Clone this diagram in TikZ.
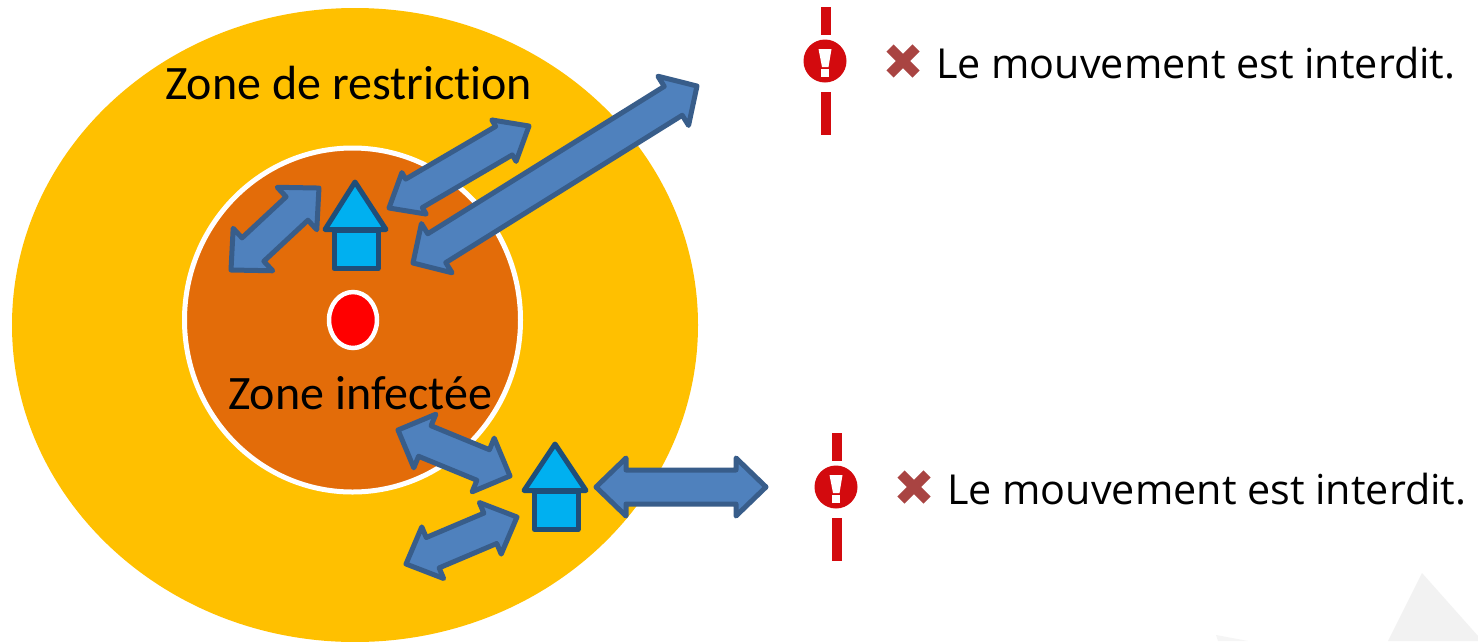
\documentclass[tikz,border=0pt]{standalone}
\usepackage{fontspec}
\setmainfont[Ligatures=NoCommon]{Carlito}
\newfontfamily\opensans{Open Sans}
\definecolor{zoneR}{HTML}{FFC000}
\definecolor{zoneI}{HTML}{E36C09}
\definecolor{arrowF}{HTML}{4F81BD}
\definecolor{arrowS}{HTML}{385D8A}
\definecolor{houseF}{HTML}{00B0F0}
\definecolor{houseS}{HTML}{1F4E79}
\definecolor{warnred}{HTML}{D30A0E}
\definecolor{crossc}{HTML}{A94442}
\tikzset{
  dblarrow/.style={fill=arrowF,draw=arrowS,line width=5pt,line join=round},
  housepart/.style={fill=houseF,draw=houseS,line width=5pt,line join=round},
  zonelabel/.style={anchor=base west,inner sep=0pt,font=\fontsize{48}{48}\selectfont,text=black},
  msglabel/.style={anchor=base west,inner sep=0pt,font=\opensans\fontsize{41.3}{42}\selectfont,text=black},
  warnbar/.style={fill=warnred,draw=none},
  crossline/.style={draw=crossc,line width=10pt}
}
% x1 y1 x2 y2 headhalf headlen shafthalf
\newcommand\dblarr[7]{%
  \pgfmathsetmacro\arrang{atan2(-((#4)-(#2)),(#3)-(#1))}%
  \pgfmathsetmacro\arrlen{veclen((#3)-(#1),(#4)-(#2))}%
  \begin{scope}[shift={(#1,#2)},rotate=\arrang]
    \draw[dblarrow] (0,0) -- (#6,#5) -- (#6,#7) -- ({\arrlen-#6},#7) -- ({\arrlen-#6},#5)
      -- (\arrlen,0) -- ({\arrlen-#6},-#5) -- ({\arrlen-#6},-#7) -- (#6,-#7) -- (#6,-#5) -- cycle;
  \end{scope}}
\newcommand\warnicon[2]{%
  \begin{scope}[shift={(#1,#2)}]
    \fill[warnbar] (-4,-54) rectangle (6,-26);
    \fill[warnbar] (-4,31) rectangle (6,74);
    \fill[warnbar] (0,0) circle (21.5);
    \fill[white] (-6.5,-12) -- (6.5,-12) -- (3.5,6) -- (-3,6) -- cycle;
    \fill[white] (-4,8) rectangle (4,15.5);
    \draw[crossline] (65,-13) -- (91,13);
    \draw[crossline] (65,13) -- (91,-13);
  \end{scope}}
\begin{document}
\begin{tikzpicture}[x=1pt,y=-1pt]
\useasboundingbox (0,0) rectangle (1478,641);
\fill[white] (0,0) rectangle (1478,641);
% faint background shapes
\fill[black!5] (1422,573) -- (1478,636) -- (1478,641) -- (1388,641) -- cycle;
\fill[black!4] (1216,635) -- (1248,641) -- (1218,641) -- cycle;
% zones
\fill[zoneR] (355,325) ellipse [x radius=343,y radius=317];
\draw[fill=zoneI,draw=white,line width=5pt] (352.5,320) ellipse [x radius=168,y radius=172];
\draw[fill=red,draw=white,line width=4.5pt] (353,320) ellipse [x radius=24,y radius=28];
% labels
\node[zonelabel] (restr) at (165,99) {Zone de restriction};
\node[zonelabel] (infect) at (228,409) {Zone infectée};
% arrows
\dblarr{231}{270}{319}{188}{29}{30}{16}
\dblarr{389}{208}{529}{126}{24}{29}{16.5}
\dblarr{413}{263}{697}{86}{29}{28}{17}
\dblarr{398}{430}{510}{476}{29}{29}{16.5}
\dblarr{406}{564}{517}{517}{28}{29}{16.5}
\dblarr{596}{487}{766}{487}{29}{30}{17}
% houses
\draw[housepart] (334,230) rectangle (378,268.5);
\draw[housepart] (355,182) -- (386,229.5) -- (325,229.5) -- cycle;
\draw[housepart] (534.5,491) rectangle (578,529.5);
\draw[housepart] (555,444) -- (586,490.5) -- (524,490.5) -- cycle;
% messages
\warnicon{825}{61}
\node[msglabel] (msga) at (936,78) {Le mouvement est interdit.};
\warnicon{836}{487}
\node[msglabel] (msgb) at (947,504) {Le mouvement est interdit.};
\end{tikzpicture}
\end{document}
